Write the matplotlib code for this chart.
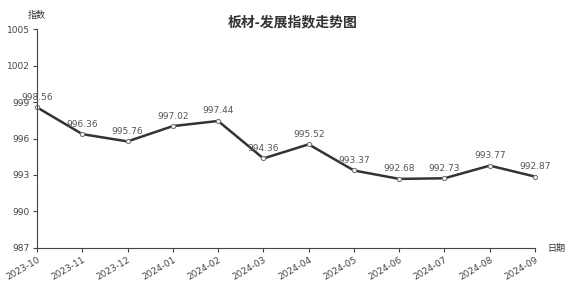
import matplotlib.pyplot as plt

plt.rcParams['font.family'] = ['Noto Sans CJK SC', 'DejaVu Sans']

months = ['2023-10', '2023-11', '2023-12', '2024-01', '2024-02', '2024-03',
          '2024-04', '2024-05', '2024-06', '2024-07', '2024-08', '2024-09']
index_values = [998.56, 996.36, 995.76, 997.02, 997.44, 994.36,
                995.52, 993.37, 992.68, 992.73, 993.77, 992.87]
y_ticks = [987, 990, 993, 996, 999, 1002, 1005]

fig = plt.figure(figsize=(5.74, 2.83), dpi=100)
ax = fig.add_axes([0.0645, 0.1237, 0.8676, 0.7738])

x = list(range(len(months)))
ax.plot(x, index_values, color='#333333', linewidth=1.8, marker='o', markersize=3,
        markerfacecolor='white', markeredgecolor='#777777', markeredgewidth=0.8,
        clip_on=False)

for xi, v in zip(x, index_values):
    ax.annotate(f'{v:.2f}', (xi, v), xytext=(0, 4), textcoords='offset points',
                ha='center', va='bottom', fontsize=6.5, color='#555555',
                family='DejaVu Sans')

ax.set_xlim(0, len(months) - 1)
ax.set_ylim(987, 1005)
ax.set_yticks(y_ticks)
ax.set_yticklabels([str(t) for t in y_ticks], fontsize=6.5, color='#444444', family='DejaVu Sans')
ax.set_xticks(x)
ax.set_xticklabels(months, rotation=30, ha='right', fontsize=6.5, color='#444444',
                   family='DejaVu Sans', rotation_mode='anchor')

for s in ['top', 'right']:
    ax.spines[s].set_visible(False)
for s in ['left', 'bottom']:
    ax.spines[s].set_color('#444444')
    ax.spines[s].set_linewidth(0.8)
ax.tick_params(axis='both', length=3, width=0.8, color='#444444', pad=2)

fig.text(0.51, 0.92, '板材-发展指数走势图', ha='center', va='center',
         fontsize=10, fontweight='bold', color='#333333')
fig.text(0.064, 0.945, '指数', ha='center', va='center', fontsize=6.5, color='#333333')
fig.text(0.953, 0.124, '日期', ha='left', va='center', fontsize=6.5, color='#333333')

fig.savefig('out.png', dpi=100)
